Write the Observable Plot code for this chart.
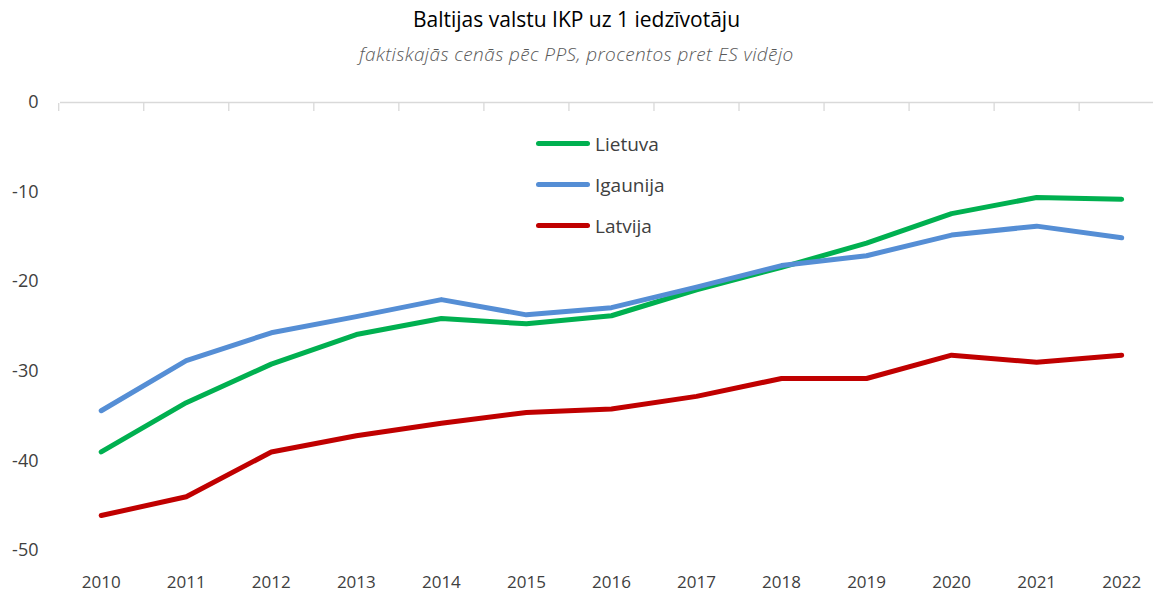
<!DOCTYPE html>
<html>
<head>
<meta charset="utf-8">
<script src="https://cdn.jsdelivr.net/npm/d3@7"></script>
<script src="https://cdn.jsdelivr.net/npm/@observablehq/plot@0.6"></script>
<style>
  body { margin: 0; background: #fff; font-family: "Open Sans", "Noto Sans", sans-serif; }
  #wrap { position: relative; width: 1153px; height: 593px; overflow: hidden; }
  #title { position: absolute; top: 5px; left: 0; width: 1153px; text-align: center; font-size: 21px; color: #000; }
  #subtitle { position: absolute; top: 41px; left: 0; width: 1153px; text-align: center; font-size: 19px; letter-spacing: 0.4px; font-style: italic; color: #595959; font-weight: 300; }
  #chart { position: absolute; top: 80px; left: 0; }
  #legend { position: absolute; left: 536px; top: 123px; font-size: 19px; color: #404040; }
  .item { display: flex; align-items: center; height: 41px; }
  .sw { width: 54px; height: 5px; border-radius: 3px; margin-right: 5px; }
</style>
</head>
<body>
<div id="wrap">
  <div id="title">Baltijas valstu IKP uz 1 iedzīvotāju</div>
  <div id="subtitle">faktiskajās cenās pēc PPS, procentos pret ES vidējo</div>
  <div id="chart"></div>
  <div id="legend"></div>
</div>
<script>
const years = [2010, 2011, 2012, 2013, 2014, 2015, 2016, 2017, 2018, 2019, 2020, 2021, 2022];
const lietuva  = [-39.0, -33.5, -29.2, -25.9, -24.1, -24.7, -23.8, -20.9, -18.4, -15.7, -12.4, -10.6, -10.8];
const igaunija = [-34.4, -28.8, -25.7, -23.9, -22.0, -23.7, -22.9, -20.6, -18.2, -17.1, -14.8, -13.8, -15.1];
const latvija  = [-46.1, -44.0, -39.0, -37.2, -35.8, -34.6, -34.2, -32.8, -30.8, -30.8, -28.2, -29.0, -28.2];
const seriesNames = ["Lietuva", "Igaunija", "Latvija"];
const seriesColors = ["#00B050", "#558ED5", "#C00000"];
const yTicks = [0, -10, -20, -30, -40, -50];
const boundaries = years.map(y => y + 0.5).concat([2009.5]);

const seriesValues = [lietuva, igaunija, latvija];
const data = [];
seriesNames.forEach((name, i) => {
  years.forEach((yr, j) => data.push({series: name, year: yr, value: seriesValues[i][j]}));
});

const chart = Plot.plot({
  width: 1153,
  height: 513,
  marginTop: 22,
  marginBottom: 43,
  marginLeft: 60,
  marginRight: 0,
  style: {fontFamily: '"Open Sans", "Noto Sans", sans-serif', fontSize: "17px", color: "#404040", background: "#fff"},
  x: {type: "linear", domain: [2009.5, 2022.5], range: [58.2, 1163.7], label: null},
  y: {domain: [-50, 0], label: null},
  color: {domain: seriesNames, range: seriesColors},
  marks: [
    Plot.ruleY([0], {stroke: "#d9d9d9", strokeWidth: 1.3}),
    Plot.axisX({anchor: "top", ticks: boundaries, tickSize: -8, tickFormat: () => "", label: null, stroke: "#d9d9d9", strokeWidth: 1.3, strokeOpacity: 1}),
    Plot.axisX({anchor: "bottom", ticks: years, tickSize: 0, tickPadding: 25, label: null, tickFormat: d => String(d), fontSize: 17, fill: "#404040"}),
    Plot.axisY({ticks: yTicks, tickSize: 0, tickPadding: 22, label: null, tickFormat: d => d === 0 ? "0" : String(d).replace("−", "-"), fontSize: 18, fill: "#404040"}),
    Plot.line(data, {x: "year", y: "value", z: "series", stroke: "series", strokeWidth: 5, strokeLinecap: "round", strokeLinejoin: "round"})
  ]
});
document.getElementById("chart").appendChild(chart);

const legend = document.getElementById("legend");
seriesNames.forEach((n, i) => {
  const d = document.createElement("div");
  d.className = "item";
  d.innerHTML = `<div class="sw" style="background:${seriesColors[i]}"></div><span>${n}</span>`;
  legend.appendChild(d);
});
</script>
</body>
</html>
